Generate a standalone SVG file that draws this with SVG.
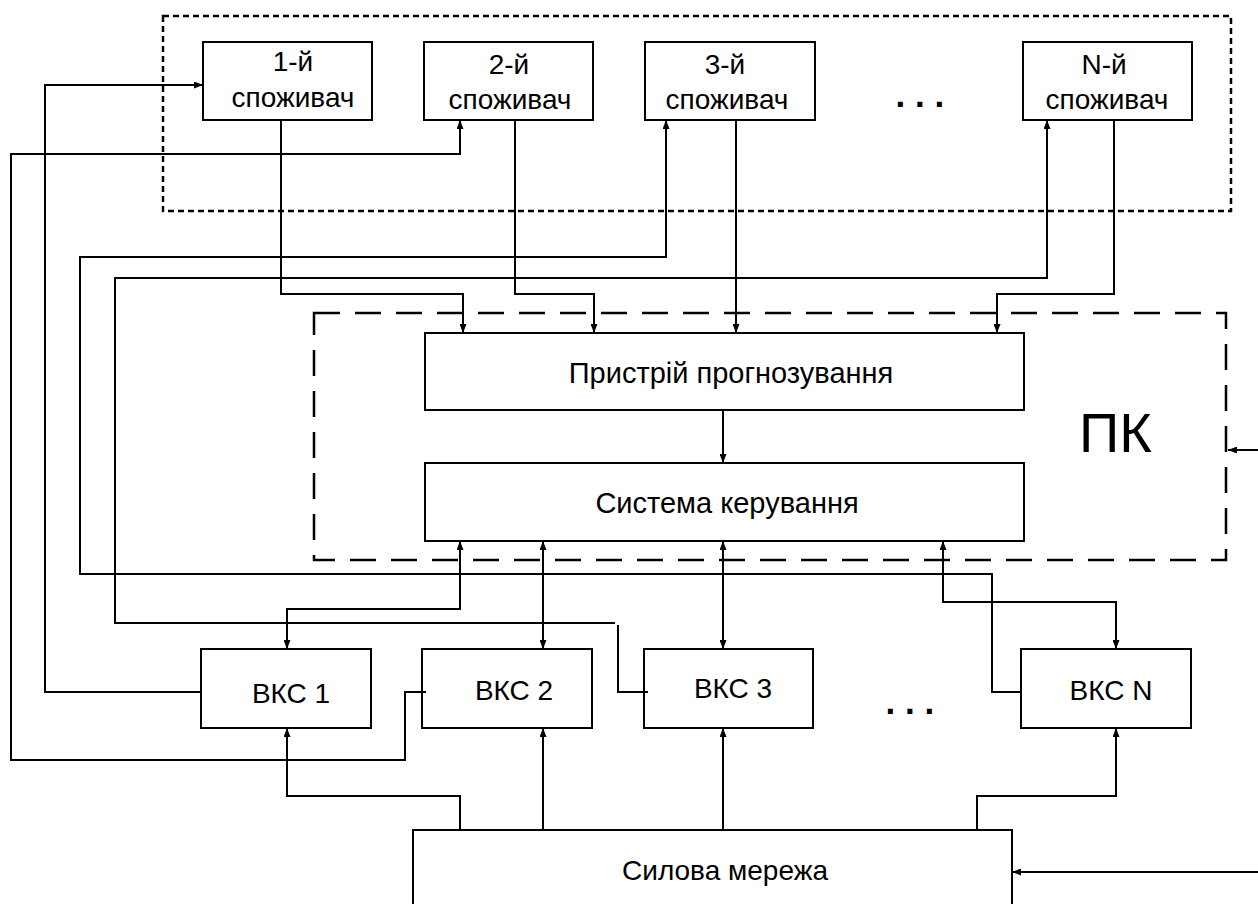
<svg xmlns="http://www.w3.org/2000/svg" width="1258" height="904" viewBox="0 0 1258 904">
  <style>
    .box { fill: #ffffff; stroke: #000000; stroke-width: 2; }
    .lbl { font-family: "Liberation Sans", Arial, sans-serif; font-size: 28px; fill: #000000; text-anchor: middle; }
    .big { font-size: 29px; }
    .wire { fill: none; stroke: #000000; stroke-width: 2; }
    .arr { marker-end: url(#head); }
    .both { marker-start: url(#head); marker-end: url(#head); }
    .dots { font-family: "Liberation Sans", Arial, sans-serif; font-size: 35px; font-weight: bold; fill: #000000; }
  </style>
  <defs>
    <marker id="head" viewBox="0 0 9 7" markerWidth="9" markerHeight="7" refX="9" refY="3.5" orient="auto-start-reverse" markerUnits="userSpaceOnUse">
      <path d="M0,0 L9,3.5 L0,7 z" fill="#000000"/>
    </marker>
  </defs>

  <rect width="1258" height="904" fill="#ffffff"/>

  <!-- consumer group frame (short dashes) -->
  <rect id="consumers-frame" x="163" y="16" width="1068" height="195" fill="none" stroke="#000000" stroke-width="2.5" stroke-dasharray="6,4"/>

  <!-- PK frame (long dashes) -->
  <g id="pk-frame">
    <rect x="314" y="313" width="912" height="247" fill="none" stroke="#000000" stroke-width="2.5" stroke-dasharray="26,15"/>
    <text x="1079" y="452" style="font-family: 'Liberation Sans', Arial, sans-serif; font-size: 56px; fill: #000000;">ПК</text>
  </g>

  <!-- consumers -->
  <g id="consumer-1">
    <rect class="box" x="203" y="42" width="169" height="78"/>
    <text class="lbl" x="293" y="71">1-й</text>
    <text class="lbl" x="293" y="107">споживач</text>
  </g>
  <g id="consumer-2">
    <rect class="box" x="424" y="42" width="169" height="78"/>
    <text class="lbl" x="509" y="74">2-й</text>
    <text class="lbl" x="510" y="109">споживач</text>
  </g>
  <g id="consumer-3">
    <rect class="box" x="645" y="42" width="170" height="78"/>
    <text class="lbl" x="725" y="74">3-й</text>
    <text class="lbl" x="727" y="109">споживач</text>
  </g>
  <g id="consumer-n">
    <rect class="box" x="1023" y="42" width="169" height="78"/>
    <text class="lbl" x="1104" y="74">N-й</text>
    <text class="lbl" x="1107" y="109">споживач</text>
  </g>
  <text class="dots" x="895.5" y="107">. . .</text>

  <!-- PK internals -->
  <g id="forecast">
    <rect class="box" x="425" y="333" width="599" height="77"/>
    <text class="lbl big" x="731" y="383">Пристрій прогнозування</text>
  </g>
  <g id="control">
    <rect class="box" x="425" y="463" width="599" height="78"/>
    <text class="lbl big" x="727" y="513">Система керування</text>
  </g>

  <!-- switching units -->
  <g id="vks-1">
    <rect class="box" x="201" y="649" width="170" height="79"/>
    <text class="lbl" x="291" y="703">ВКС 1</text>
  </g>
  <g id="vks-2">
    <rect class="box" x="422" y="649" width="170" height="79"/>
    <text class="lbl" x="514" y="700">ВКС 2</text>
  </g>
  <g id="vks-3">
    <rect class="box" x="644" y="649" width="169" height="79"/>
    <text class="lbl" x="733" y="698">ВКС 3</text>
  </g>
  <g id="vks-n">
    <rect class="box" x="1021" y="649" width="170" height="79"/>
    <text class="lbl" x="1111" y="700">ВКС N</text>
  </g>
  <text class="dots" x="885.5" y="714">. . .</text>

  <!-- power grid -->
  <g id="power-grid">
    <rect class="box" x="413" y="830" width="599" height="90"/>
    <text class="lbl" x="725" y="880">Силова мережа</text>
  </g>

  <g id="connectors">
    <!-- consumers to forecasting unit -->
    <path class="wire arr" d="M281,120 V294 H463 V333"/>
    <path class="wire arr" d="M515,120 V294 H594 V333"/>
    <path class="wire arr" d="M736,120 V333"/>
    <path class="wire arr" d="M1114,120 V294 H997 V333"/>

    <!-- forecasting to control -->
    <path class="wire arr" d="M723,410 V463"/>

    <!-- control to/from switching units -->
    <path class="wire both" d="M460,541 V609 H287 V649"/>
    <path class="wire both" d="M543,541 V649"/>
    <path class="wire both" d="M723,541 V649"/>
    <path class="wire both" d="M943,541 V602 H1116 V649"/>

    <!-- power grid feeds -->
    <path class="wire arr" d="M460,830 V796 H287 V728"/>
    <path class="wire arr" d="M543,830 V728"/>
    <path class="wire arr" d="M723,830 V728"/>
    <path class="wire arr" d="M977,830 V796 H1116 V728"/>

    <!-- switching units to consumers -->
    <path class="wire arr" d="M201,692 H45 V85 H203"/>
    <path class="wire arr" d="M426,692 H405 V760 H11 V154 H460 V120"/>
    <path class="wire arr" d="M1021,692 H992 V574 H80 V257 H666 V120"/>
    <path class="wire" d="M648,692 H618 V625"/>
    <path class="wire arr" d="M615,623 H115 V278 H1047 V120"/>

    <!-- external inputs -->
    <path class="wire arr" d="M1258,450 H1228"/>
    <path class="wire arr" d="M1258,872 H1012"/>
  </g>
</svg>
